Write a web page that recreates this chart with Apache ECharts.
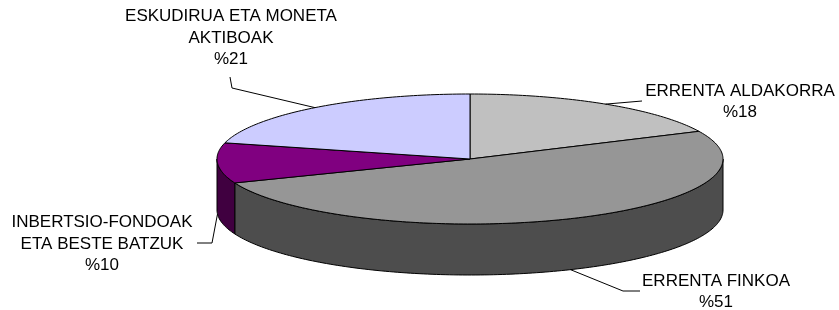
<!DOCTYPE html>
<html>
<head>
<meta charset="utf-8">
<script src="https://cdn.jsdelivr.net/npm/echarts@6/dist/echarts.min.js"></script>
<style>
html, body { margin: 0; padding: 0; background: #fff; }
#main { width: 839px; height: 310px; }
</style>
</head>
<body>
<div id="main"></div>
<script>
// data (clockwise from 12 o'clock)
var categories = ['ERRENTA ALDAKORRA', 'ERRENTA FINKOA', 'INBERTSIO-FONDOAK\nETA BESTE BATZUK', 'ESKUDIRUA ETA MONETA\nAKTIBOAK'];
var values = [18, 51, 10, 21];

var topColors = ['#C0C0C0', '#969696', '#800080', '#CCCCFF'];
var sideColors = ['#606060', '#4D4D4D', '#400040', '#66667F'];

// ellipse layout of the tilted pie
var cx = 470, cy = 159, rx = 253, ry = 65, depth = 51;

// label boxes and leader elbows
var labelLayout = [
	{ x: 740, y: 102, path: [[642, 101]] },
	{ x: 716, y: 292, path: [[640, 291], [623, 291]] },
	{ x: 102, y: 244, path: [[197, 243], [212, 243]] },
	{ x: 231, y: 38, path: [[230, 77], [232, 88]] }
];

var total = 0;
for (var i = 0; i < values.length; i++) total += values[i];

function pt(a, dy) {
	return [cx + rx * Math.sin(a), cy - ry * Math.cos(a) + dy];
}

function arc(a0, a1, dy) {
	var pts = [];
	var n = Math.max(2, Math.ceil((a1 - a0) / (Math.PI / 180)));
	for (var k = 0; k <= n; k++) {
		pts.push(pt(a0 + (a1 - a0) * k / n, dy));
	}
	return pts;
}

function renderItem(params, api) {
	var i = params.dataIndex;
	var start = 0;
	for (var j = 0; j < i; j++) start += values[j];
	var a0 = start / total * Math.PI * 2;
	var a1 = (start + api.value(0)) / total * Math.PI * 2;
	var children = [];

	// outer wall, only the front half shows
	var s0 = Math.max(a0, Math.PI / 2), s1 = Math.min(a1, Math.PI * 3 / 2);
	if (s1 > s0) {
		var wall = arc(s0, s1, 0).concat(arc(s0, s1, depth).reverse());
		children.push({
			type: 'polygon', z2: 1,
			shape: { points: wall },
			style: { fill: sideColors[i], stroke: '#000', lineWidth: 1 }
		});
	}

	// top face
	var top = [[cx, cy]].concat(arc(a0, a1, 0));
	children.push({
		type: 'polygon', z2: 2,
		shape: { points: top },
		style: { fill: topColors[i], stroke: '#000', lineWidth: 1 }
	});

	// leader line
	var mid = (a0 + a1) / 2;
	var front = mid > Math.PI / 2 && mid < Math.PI * 3 / 2;
	var lay = labelLayout[i];
	children.push({
		type: 'polyline', z2: 3,
		shape: { points: lay.path.concat([pt(mid, front ? depth : 0)]) },
		style: { fill: null, stroke: '#000', lineWidth: 1 }
	});

	children.push({
		type: 'text', z2: 4,
		style: {
			text: categories[i] + '\n%' + api.value(0),
			x: lay.x, y: lay.y,
			align: 'center', verticalAlign: 'middle',
			fontFamily: 'Liberation Sans, Arial, sans-serif',
			fontSize: 17, lineHeight: 21.5,
			fill: '#000'
		}
	});

	return { type: 'group', children: children };
}

var myChart = echarts.init(document.getElementById('main'), null, { renderer: 'canvas' });
var option = {
	backgroundColor: '#fff',
	animation: false,
	series: [{
		type: 'custom',
		coordinateSystem: 'none',
		silent: true,
		renderItem: renderItem,
		data: values.map(function (v, k) { return { name: categories[k], value: [v] }; })
	}]
};
myChart.setOption(option);
</script>
</body>
</html>
